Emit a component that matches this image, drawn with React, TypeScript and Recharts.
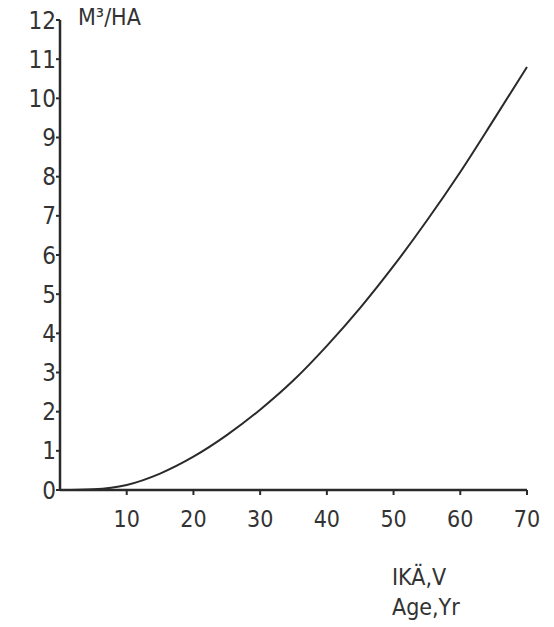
import * as React from "react"
import { LineChart, Line, XAxis, YAxis } from "recharts"

// age (years) and volume (m3/ha)
const ages = [0, 5, 10, 15, 20, 25, 30, 35, 40, 45, 50, 55, 60, 65, 70]
const volumes = [0, 0.02, 0.13, 0.42, 0.85, 1.4, 2.05, 2.8, 3.68, 4.65, 5.72, 6.88, 8.12, 9.45, 10.8]
const xTicks = [10, 20, 30, 40, 50, 60, 70]
const yTicks = [0, 1, 2, 3, 4, 5, 6, 7, 8, 9, 10, 11, 12]

const data = ages.map((age, i) => ({ age, volume: volumes[i] }))

const font = "'DejaVu Sans Condensed', 'Liberation Sans Narrow', 'DejaVu Sans', sans-serif"
const ink = "#2a2a2a"

export default function App() {
  return (
    <div style={{ position: "absolute", left: 0, top: 0, width: 554, height: 627, background: "#fff" }}>
      <LineChart
        width={554}
        height={627}
        data={data}
        margin={{ top: 20, right: 27, left: 0, bottom: 0 }}
      >
        <XAxis
          dataKey="age"
          type="number"
          domain={[0, 70]}
          ticks={xTicks}
          height={137}
          stroke={ink}
          strokeWidth={2.5}
          tickSize={5}
          tickMargin={16}
          tick={{ fill: "#333", fontSize: 23, fontFamily: font }}
          tickLine={{ stroke: ink, strokeWidth: 2 }}
        />
        <YAxis
          type="number"
          domain={[0, 12]}
          ticks={yTicks}
          width={60}
          stroke={ink}
          strokeWidth={2.5}
          tickSize={4}
          tickMargin={0}
          tick={{ fill: "#333", fontSize: 24, fontFamily: font }}
          tickLine={{ stroke: ink, strokeWidth: 2 }}
          interval={0}
        />
        <Line
          type="monotone"
          dataKey="volume"
          stroke={ink}
          strokeWidth={2}
          dot={false}
          isAnimationActive={false}
        />
      </LineChart>
      <div style={{ position: "absolute", left: 78, top: 4, fontFamily: font, fontSize: 23, color: "#333" }}>
        M³/HA
      </div>
      <div style={{ position: "absolute", left: 392, top: 562, fontFamily: font, fontSize: 23, color: "#333", lineHeight: "30px" }}>
        <div>IKÄ,V</div>
        <div>Age,Yr</div>
      </div>
    </div>
  )
}
